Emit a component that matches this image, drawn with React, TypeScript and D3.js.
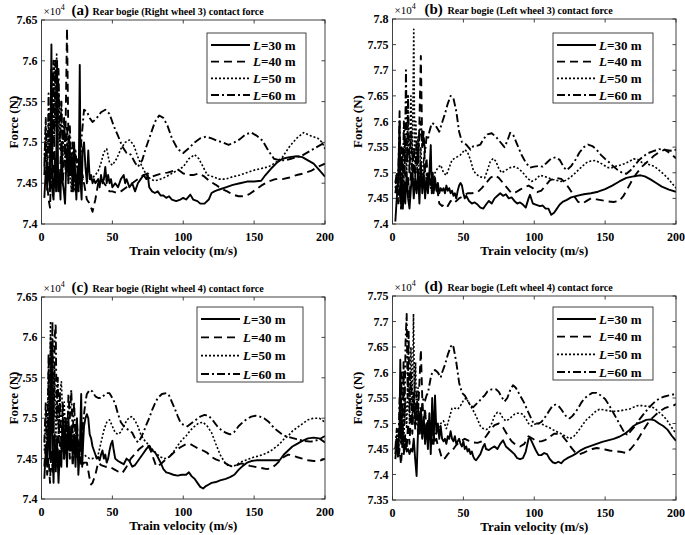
import React from "react";
import * as d3 from "d3";

type P = [number, number];

// ---------- Panel (a): Rear bogie (Right wheel 3) ----------
const a30: P[] = [[2,7.432],[3,7.465],[4,7.45],[5,7.47],[6,7.44],[7,7.62],[7.7,7.44],[8.5,7.43],[9.5,7.48],[10.3,7.44],[11,7.6],[11.8,7.44],[12.6,7.46],[13.4,7.43],[14.2,7.5],[15,7.45],[15.8,7.44],[16.6,7.425],[17.4,7.47],[18.2,7.49],[19,7.45],[19.8,7.5],[20.6,7.46],[21.4,7.48],[22.2,7.44],[23,7.5],[23.8,7.46],[24.6,7.43],[25.4,7.47],[26.2,7.44],[27,7.595],[27.6,7.45],[28.3,7.43],[29,7.49],[30,7.5],[31,7.47],[32,7.45],[33,7.49],[34,7.455],[35,7.46],[36,7.45],[37,7.455],[38,7.45],[40,7.455],[41,7.445],[42,7.46],[43,7.45],[44,7.455],[45,7.47],[46,7.45],[47,7.46],[48,7.45],[49,7.455],[50,7.445],[52,7.45],[54,7.445],[56,7.455],[58,7.46],[59,7.45],[60,7.455],[62,7.445],[64,7.45],[66,7.44],[68,7.45],[70,7.455],[72,7.46],[74,7.455],[75,7.46],[76,7.445],[78,7.44],[80,7.438],[82,7.44],[84,7.435],[86,7.435],[88,7.432],[90,7.434],[92,7.43],[95,7.428],[98,7.43],[100,7.432],[102,7.43],[105,7.436],[107,7.43],[110,7.428],[112,7.425],[115,7.425],[118,7.43],[120,7.438],[122,7.44],[125,7.442],[130,7.445],[135,7.448],[140,7.45],[145,7.452],[150,7.452],[155,7.453],[158,7.46],[162,7.468],[166,7.475],[170,7.48],[175,7.482],[180,7.483],[184,7.482],[188,7.478],[192,7.474],[196,7.466],[200,7.458]];
const a40: P[] = [[2,7.46],[3,7.5],[4,7.45],[5,7.43],[6,7.42],[7,7.47],[8,7.44],[9,7.5],[10,7.45],[11,7.48],[12,7.44],[13,7.46],[14,7.5],[15,7.45],[16,7.48],[17,7.52],[18,7.64],[19,7.5],[20,7.46],[21,7.48],[22,7.45],[23,7.47],[24,7.44],[25,7.46],[26,7.45],[27,7.47],[28,7.45],[29,7.46],[30,7.45],[31,7.44],[32,7.43],[34,7.425],[36,7.415],[38,7.43],[40,7.45],[42,7.455],[45,7.448],[48,7.44],[50,7.44],[53,7.438],[56,7.44],[60,7.445],[64,7.45],[68,7.455],[72,7.46],[75,7.462],[78,7.458],[81,7.46],[85,7.462],[89,7.463],[93,7.465],[97,7.466],[100,7.462],[103,7.46],[107,7.46],[111,7.462],[115,7.458],[119,7.452],[123,7.448],[127,7.443],[131,7.44],[135,7.436],[139,7.434],[143,7.434],[147,7.437],[151,7.442],[155,7.447],[160,7.452],[165,7.455],[170,7.455],[175,7.457],[180,7.46],[185,7.462],[190,7.465],[195,7.47],[200,7.474]];
const a50: P[] = [[2,7.48],[3,7.52],[4,7.46],[5,7.53],[6,7.47],[7,7.58],[8,7.5],[9,7.6],[10,7.52],[10.7,7.61],[11.5,7.5],[12.3,7.56],[13,7.49],[14,7.55],[15,7.48],[16,7.53],[17,7.46],[18,7.5],[19,7.45],[20,7.48],[21,7.44],[22,7.47],[23,7.44],[24,7.46],[25,7.45],[26,7.47],[27,7.45],[28,7.46],[30,7.45],[32,7.452],[35,7.455],[38,7.46],[40,7.465],[42,7.475],[44,7.488],[46,7.492],[48,7.475],[50,7.472],[53,7.48],[56,7.492],[59,7.5],[62,7.503],[65,7.497],[68,7.482],[71,7.47],[74,7.46],[77,7.455],[80,7.453],[84,7.455],[88,7.458],[92,7.462],[96,7.466],[100,7.47],[104,7.48],[108,7.485],[111,7.48],[114,7.47],[117,7.46],[121,7.458],[125,7.455],[130,7.455],[135,7.458],[140,7.46],[145,7.463],[150,7.466],[155,7.468],[160,7.47],[165,7.475],[170,7.482],[175,7.495],[180,7.505],[185,7.512],[190,7.508],[195,7.505],[198,7.5],[200,7.492]];
const a60: P[] = [[2,7.47],[3,7.53],[4,7.44],[5,7.56],[6,7.46],[7,7.59],[7.7,7.48],[8.4,7.6],[9,7.5],[10,7.6],[11,7.52],[12,7.59],[13,7.5],[14,7.55],[15,7.49],[16,7.53],[17,7.47],[18,7.52],[19,7.48],[20,7.52],[21,7.47],[22,7.5],[23,7.46],[24,7.49],[25,7.47],[26,7.48],[27,7.45],[28,7.5],[29,7.52],[30,7.54],[32,7.538],[34,7.53],[36,7.525],[38,7.528],[40,7.532],[42,7.537],[45,7.54],[48,7.535],[51,7.52],[54,7.508],[57,7.495],[60,7.487],[63,7.485],[66,7.475],[68,7.47],[71,7.478],[74,7.495],[77,7.51],[80,7.525],[83,7.533],[86,7.53],[89,7.52],[92,7.505],[96,7.492],[100,7.487],[104,7.493],[108,7.5],[112,7.505],[116,7.507],[120,7.505],[124,7.502],[128,7.5],[132,7.497],[136,7.5],[140,7.504],[144,7.51],[148,7.512],[152,7.508],[156,7.502],[160,7.49],[164,7.48],[168,7.478],[172,7.478],[176,7.48],[180,7.482],[184,7.484],[188,7.488],[192,7.492],[196,7.496],[200,7.5]];

// ---------- Panel (b): Rear bogie (Left wheel 3) ----------
const b30: P[] = [[2,7.405],[3,7.45],[4,7.49],[5,7.6],[5.7,7.44],[6.5,7.48],[7.3,7.43],[8,7.47],[9,7.44],[10,7.5],[11,7.45],[12,7.43],[13,7.47],[14,7.5],[15,7.45],[16,7.49],[17,7.46],[18,7.5],[19,7.44],[20,7.52],[21,7.46],[22,7.5],[23,7.45],[24,7.49],[25,7.46],[26,7.5],[27,7.554],[27.7,7.46],[28.4,7.5],[29,7.46],[30,7.49],[31,7.465],[32,7.48],[33,7.46],[34,7.47],[35,7.465],[36,7.47],[37,7.46],[38,7.475],[39,7.465],[40,7.47],[41,7.46],[42,7.465],[43,7.455],[44,7.46],[45,7.45],[46,7.465],[47,7.475],[48,7.48],[49,7.475],[50,7.46],[51,7.45],[52,7.455],[54,7.445],[56,7.44],[58,7.442],[60,7.438],[62,7.432],[64,7.43],[66,7.438],[68,7.445],[70,7.44],[72,7.45],[74,7.455],[76,7.46],[78,7.455],[80,7.458],[82,7.45],[84,7.452],[86,7.445],[88,7.44],[90,7.442],[92,7.438],[94,7.432],[96,7.45],[97,7.457],[99,7.44],[101,7.438],[104,7.435],[106,7.436],[108,7.43],[110,7.43],[112,7.418],[114,7.422],[116,7.43],[118,7.438],[120,7.443],[123,7.447],[126,7.452],[130,7.455],[135,7.458],[140,7.46],[145,7.463],[150,7.468],[155,7.475],[160,7.483],[165,7.49],[170,7.493],[175,7.495],[178,7.493],[182,7.487],[186,7.48],[190,7.473],[195,7.467],[200,7.463]];
const b40: P[] = [[2,7.46],[3,7.48],[4,7.44],[5,7.47],[6,7.43],[7,7.48],[8,7.45],[9,7.5],[10,7.46],[11,7.49],[12,7.45],[13,7.5],[14,7.47],[15,7.52],[16,7.49],[17,7.55],[18,7.5],[19,7.6],[20,7.728],[21,7.55],[22,7.58],[23,7.5],[24,7.53],[25,7.48],[26,7.5],[27,7.47],[28,7.49],[29,7.46],[30,7.48],[31,7.47],[32,7.46],[33,7.44],[35,7.435],[37,7.44],[39,7.435],[41,7.445],[43,7.44],[45,7.445],[47,7.45],[50,7.455],[53,7.46],[56,7.46],[60,7.462],[63,7.47],[66,7.48],[69,7.49],[72,7.495],[75,7.49],[78,7.48],[81,7.47],[84,7.46],[87,7.462],[90,7.467],[93,7.472],[96,7.475],[99,7.47],[102,7.462],[105,7.465],[108,7.475],[111,7.485],[115,7.49],[119,7.488],[122,7.48],[125,7.468],[128,7.455],[131,7.443],[134,7.44],[137,7.445],[140,7.45],[144,7.448],[148,7.446],[152,7.444],[156,7.443],[160,7.445],[163,7.455],[166,7.47],[169,7.485],[172,7.498],[176,7.512],[180,7.522],[184,7.532],[188,7.54],[192,7.545],[196,7.538],[200,7.528]];
const b50: P[] = [[2,7.47],[3,7.5],[4,7.45],[5,7.52],[6,7.47],[7,7.55],[8,7.48],[9,7.57],[10,7.5],[11,7.6],[12,7.5],[13,7.65],[14,7.52],[15,7.78],[15.7,7.53],[16.5,7.6],[17.3,7.5],[18,7.57],[19,7.48],[20,7.55],[21,7.47],[22,7.53],[23,7.46],[24,7.5],[25,7.46],[26,7.49],[27,7.47],[28,7.5],[29,7.48],[30,7.5],[32,7.51],[34,7.515],[36,7.5],[38,7.495],[40,7.51],[42,7.525],[45,7.53],[48,7.535],[51,7.545],[53,7.54],[55,7.525],[57,7.505],[59,7.497],[62,7.492],[65,7.49],[67,7.505],[69,7.522],[71,7.528],[73,7.522],[75,7.508],[77,7.5],[80,7.505],[83,7.51],[86,7.512],[89,7.508],[92,7.5],[95,7.49],[98,7.483],[101,7.487],[104,7.495],[107,7.493],[110,7.49],[113,7.487],[116,7.485],[119,7.483],[122,7.485],[125,7.49],[128,7.497],[131,7.505],[134,7.513],[137,7.52],[140,7.523],[143,7.524],[146,7.52],[149,7.515],[152,7.51],[155,7.51],[158,7.513],[161,7.515],[164,7.518],[167,7.522],[170,7.527],[173,7.526],[176,7.52],[179,7.518],[182,7.515],[185,7.512],[188,7.505],[191,7.498],[194,7.49],[197,7.48],[200,7.47]];
const b60: P[] = [[2,7.48],[3,7.5],[4,7.47],[5,7.62],[5.7,7.46],[6.4,7.55],[7.2,7.47],[8,7.6],[8.7,7.5],[9.5,7.7],[10.3,7.52],[11,7.65],[12,7.5],[13,7.58],[14,7.49],[15,7.55],[16,7.5],[17,7.56],[18,7.52],[19,7.57],[20,7.6],[21,7.55],[22,7.57],[23,7.54],[24,7.57],[25,7.565],[26,7.58],[27,7.59],[28,7.597],[30,7.594],[32,7.585],[33,7.58],[35,7.598],[37,7.615],[39,7.635],[41,7.65],[43,7.645],[45,7.62],[47,7.58],[49,7.56],[52,7.555],[55,7.545],[57,7.552],[60,7.553],[62,7.555],[64,7.565],[67,7.575],[70,7.577],[73,7.57],[76,7.56],[79,7.55],[81,7.562],[83,7.578],[85,7.575],[88,7.555],[91,7.535],[94,7.52],[97,7.51],[100,7.512],[103,7.513],[106,7.512],[109,7.52],[112,7.528],[115,7.53],[118,7.525],[121,7.51],[123,7.505],[126,7.513],[129,7.525],[132,7.54],[135,7.55],[138,7.555],[141,7.552],[144,7.545],[147,7.535],[150,7.527],[153,7.52],[156,7.512],[159,7.505],[162,7.5],[165,7.498],[168,7.505],[171,7.515],[174,7.525],[177,7.532],[180,7.538],[184,7.542],[188,7.546],[192,7.545],[196,7.543],[200,7.545]];

// ---------- Panel (c): Rear bogie (Right wheel 4) ----------
const c30: P[] = [[2,7.425],[3,7.46],[4,7.44],[5,7.5],[6,7.45],[7,7.59],[7.7,7.46],[8.5,7.42],[9.3,7.48],[10,7.44],[11,7.47],[12,7.42],[13,7.46],[14,7.44],[15,7.5],[16,7.45],[17,7.48],[18,7.44],[19,7.5],[20,7.46],[21,7.49],[22,7.45],[23,7.48],[24,7.44],[25,7.5],[26,7.43],[27,7.46],[28,7.53],[28.7,7.44],[29.4,7.47],[30,7.49],[31,7.5],[32,7.505],[33,7.5],[34,7.48],[35,7.475],[36,7.465],[37,7.46],[38,7.455],[39,7.45],[40,7.452],[41,7.448],[42,7.455],[43,7.46],[44,7.45],[45,7.455],[46,7.445],[47,7.45],[48,7.46],[49,7.468],[50,7.472],[51,7.46],[52,7.45],[54,7.447],[56,7.445],[58,7.443],[60,7.45],[62,7.447],[64,7.44],[66,7.442],[68,7.447],[70,7.452],[72,7.457],[74,7.462],[76,7.466],[78,7.46],[80,7.458],[82,7.452],[84,7.445],[86,7.437],[88,7.433],[90,7.432],[93,7.43],[96,7.429],[99,7.43],[102,7.43],[104,7.433],[106,7.428],[108,7.425],[110,7.42],[112,7.415],[114,7.413],[116,7.416],[118,7.418],[120,7.42],[123,7.421],[126,7.423],[130,7.425],[133,7.427],[136,7.43],[139,7.436],[142,7.441],[145,7.445],[148,7.447],[152,7.448],[156,7.448],[160,7.448],[164,7.448],[168,7.448],[171,7.455],[174,7.46],[177,7.465],[180,7.468],[184,7.472],[188,7.475],[192,7.476],[196,7.475],[200,7.47]];
const c40: P[] = [[2,7.44],[3,7.47],[4,7.43],[5,7.45],[6,7.42],[7,7.46],[8,7.43],[9,7.47],[10,7.43],[11,7.48],[12,7.44],[13,7.47],[14,7.45],[15,7.49],[16,7.45],[17,7.5],[18,7.46],[19,7.49],[20,7.45],[21,7.48],[22,7.44],[23,7.47],[24,7.45],[25,7.48],[26,7.45],[27,7.47],[28,7.44],[30,7.445],[32,7.445],[34,7.425],[35,7.418],[36,7.42],[38,7.43],[40,7.445],[42,7.442],[45,7.44],[48,7.44],[51,7.437],[54,7.434],[57,7.432],[60,7.44],[63,7.45],[66,7.456],[69,7.462],[72,7.466],[75,7.467],[77,7.46],[79,7.45],[81,7.44],[84,7.443],[87,7.448],[90,7.452],[93,7.457],[96,7.462],[99,7.465],[102,7.468],[105,7.468],[108,7.465],[111,7.462],[114,7.46],[117,7.457],[120,7.452],[123,7.449],[126,7.447],[129,7.445],[132,7.442],[135,7.44],[138,7.442],[141,7.444],[144,7.443],[147,7.441],[150,7.44],[153,7.439],[156,7.438],[159,7.437],[162,7.438],[165,7.442],[168,7.447],[171,7.452],[174,7.455],[177,7.454],[180,7.452],[184,7.45],[188,7.448],[192,7.447],[196,7.447],[200,7.45]];
const c50: P[] = [[2,7.46],[3,7.5],[4,7.47],[5,7.56],[5.7,7.48],[6.4,7.62],[7.1,7.5],[7.8,7.59],[8.5,7.49],[9.3,7.56],[10,7.47],[11,7.52],[12,7.48],[13,7.53],[14,7.545],[15,7.5],[16,7.52],[17,7.47],[18,7.5],[19,7.46],[20,7.49],[21,7.46],[22,7.48],[23,7.455],[24,7.47],[25,7.45],[26,7.46],[27,7.45],[28,7.455],[30,7.455],[32,7.452],[34,7.45],[36,7.45],[38,7.452],[40,7.455],[42,7.47],[44,7.485],[46,7.495],[48,7.498],[50,7.49],[52,7.482],[54,7.48],[56,7.483],[58,7.49],[60,7.497],[62,7.501],[64,7.502],[66,7.497],[68,7.49],[70,7.48],[72,7.474],[75,7.468],[78,7.462],[81,7.456],[84,7.452],[87,7.45],[90,7.452],[93,7.458],[96,7.466],[99,7.473],[102,7.478],[105,7.485],[108,7.49],[111,7.494],[114,7.495],[117,7.49],[120,7.482],[123,7.468],[126,7.455],[129,7.446],[132,7.441],[135,7.44],[138,7.443],[141,7.446],[144,7.448],[147,7.45],[150,7.452],[153,7.453],[156,7.455],[159,7.457],[162,7.46],[165,7.464],[168,7.468],[171,7.474],[174,7.478],[177,7.484],[180,7.488],[184,7.493],[188,7.498],[192,7.5],[196,7.5],[200,7.495]];
const c60: P[] = [[2,7.47],[3,7.52],[4,7.45],[5,7.58],[5.7,7.46],[6.4,7.6],[7,7.5],[7.7,7.62],[8.5,7.47],[9.3,7.6],[10,7.617],[10.7,7.5],[11.5,7.55],[12.3,7.47],[13,7.53],[14,7.46],[15,7.52],[16,7.47],[17,7.5],[18,7.46],[19,7.53],[20,7.5],[21,7.535],[22,7.48],[23,7.52],[24,7.47],[25,7.5],[26,7.46],[27,7.47],[28,7.46],[29,7.49],[30,7.505],[31,7.52],[32,7.53],[34,7.535],[36,7.533],[38,7.527],[40,7.525],[42,7.525],[44,7.528],[46,7.531],[48,7.531],[50,7.525],[52,7.518],[54,7.505],[56,7.495],[58,7.49],[60,7.487],[62,7.485],[64,7.482],[66,7.475],[68,7.47],[70,7.475],[72,7.483],[74,7.492],[76,7.5],[78,7.51],[80,7.518],[82,7.525],[85,7.53],[88,7.531],[90,7.528],[92,7.52],[94,7.512],[96,7.503],[98,7.495],[100,7.492],[103,7.49],[106,7.494],[109,7.498],[112,7.502],[115,7.504],[118,7.503],[121,7.497],[124,7.49],[127,7.485],[130,7.482],[133,7.48],[136,7.483],[139,7.49],[142,7.495],[145,7.499],[148,7.502],[151,7.503],[154,7.502],[157,7.5],[160,7.496],[163,7.49],[166,7.485],[169,7.481],[172,7.478],[176,7.476],[180,7.474],[185,7.472],[190,7.471],[195,7.473],[200,7.478]];

// ---------- Panel (d): Rear bogie (Left wheel 4) ----------
const d30: P[] = [[2,7.43],[3,7.46],[4,7.44],[5,7.5],[5.5,7.625],[6.2,7.46],[7,7.5],[8,7.445],[9,7.46],[10,7.445],[11,7.45],[12,7.44],[13,7.45],[14,7.445],[15,7.47],[16,7.43],[17,7.397],[17.7,7.46],[18.5,7.52],[19.3,7.48],[20,7.53],[21,7.47],[22,7.51],[23,7.46],[24,7.5],[25,7.45],[26,7.52],[27,7.44],[28,7.55],[29,7.46],[30,7.555],[31,7.48],[32,7.5],[33,7.47],[34,7.495],[35,7.47],[36,7.465],[37,7.47],[38,7.46],[39,7.475],[40,7.47],[41,7.485],[42,7.47],[43,7.465],[44,7.475],[45,7.46],[46,7.465],[47,7.47],[48,7.46],[49,7.455],[50,7.465],[51,7.45],[52,7.455],[53,7.445],[54,7.45],[55,7.44],[56,7.445],[57,7.435],[58,7.43],[59,7.428],[60,7.432],[62,7.44],[64,7.455],[65,7.46],[66,7.45],[68,7.448],[70,7.452],[72,7.455],[74,7.45],[76,7.46],[78,7.467],[80,7.455],[82,7.45],[84,7.445],[86,7.44],[88,7.432],[90,7.43],[92,7.432],[94,7.445],[96,7.47],[97,7.472],[99,7.46],[101,7.448],[103,7.438],[105,7.438],[107,7.442],[109,7.44],[111,7.43],[113,7.424],[115,7.422],[117,7.425],[119,7.422],[121,7.428],[124,7.433],[127,7.437],[130,7.442],[133,7.448],[136,7.452],[140,7.456],[144,7.46],[148,7.464],[152,7.467],[156,7.47],[160,7.474],[164,7.48],[167,7.487],[170,7.495],[173,7.5],[176,7.503],[179,7.507],[182,7.508],[185,7.506],[188,7.5],[191,7.495],[194,7.488],[197,7.476],[200,7.466]];
const d40: P[] = [[2,7.44],[3,7.47],[4,7.43],[5,7.45],[6,7.42],[7,7.46],[8,7.44],[9,7.48],[10,7.45],[11,7.5],[12,7.46],[13,7.52],[14,7.48],[15,7.55],[16,7.5],[17,7.56],[18,7.52],[19,7.58],[20,7.645],[21,7.55],[22,7.5],[23,7.53],[24,7.48],[25,7.51],[26,7.47],[27,7.5],[28,7.46],[29,7.48],[30,7.46],[31,7.47],[32,7.455],[33,7.45],[35,7.43],[37,7.432],[39,7.44],[41,7.445],[43,7.45],[45,7.458],[48,7.465],[51,7.47],[54,7.466],[57,7.463],[60,7.462],[63,7.465],[66,7.475],[69,7.487],[72,7.497],[75,7.5],[78,7.492],[81,7.478],[84,7.465],[87,7.458],[90,7.455],[93,7.46],[96,7.475],[99,7.47],[102,7.465],[105,7.465],[108,7.468],[111,7.474],[114,7.48],[117,7.48],[120,7.475],[123,7.465],[126,7.453],[129,7.443],[132,7.44],[135,7.443],[138,7.447],[141,7.45],[144,7.452],[147,7.451],[150,7.449],[153,7.447],[156,7.446],[159,7.445],[162,7.444],[165,7.442],[168,7.45],[171,7.46],[174,7.473],[177,7.487],[180,7.5],[183,7.51],[186,7.518],[189,7.525],[192,7.53],[195,7.533],[198,7.535],[200,7.538]];
const d50: P[] = [[2,7.45],[3,7.48],[4,7.44],[5,7.5],[6,7.46],[7,7.52],[8,7.47],[9,7.55],[10,7.49],[11,7.6],[12,7.5],[13,7.65],[14,7.52],[14.8,7.715],[15.5,7.55],[16.3,7.62],[17,7.5],[18,7.57],[19,7.48],[20,7.53],[21,7.47],[22,7.51],[23,7.47],[24,7.5],[25,7.48],[26,7.495],[27,7.475],[28,7.49],[30,7.48],[32,7.49],[34,7.5],[36,7.505],[38,7.49],[40,7.51],[42,7.53],[44,7.53],[46,7.528],[48,7.535],[50,7.545],[52,7.55],[54,7.54],[56,7.53],[58,7.52],[60,7.508],[62,7.495],[64,7.49],[66,7.488],[68,7.49],[70,7.5],[72,7.515],[74,7.522],[76,7.52],[78,7.51],[80,7.505],[82,7.508],[84,7.513],[86,7.518],[88,7.52],[90,7.52],[92,7.518],[94,7.51],[96,7.5],[98,7.495],[100,7.498],[102,7.5],[104,7.5],[106,7.498],[108,7.495],[110,7.493],[113,7.488],[116,7.484],[119,7.48],[122,7.475],[125,7.47],[128,7.475],[131,7.485],[134,7.497],[137,7.508],[140,7.515],[143,7.523],[146,7.528],[149,7.527],[152,7.525],[155,7.524],[158,7.524],[161,7.525],[164,7.527],[167,7.528],[170,7.532],[173,7.535],[176,7.535],[179,7.534],[182,7.533],[185,7.53],[188,7.522],[191,7.515],[194,7.505],[197,7.492],[200,7.48]];
const d60: P[] = [[2,7.45],[3,7.49],[4,7.44],[5,7.55],[5.7,7.47],[6.4,7.6],[7.1,7.48],[7.8,7.62],[8.5,7.5],[9.2,7.66],[10,7.715],[10.7,7.55],[11.4,7.68],[12,7.52],[13,7.6],[14,7.5],[15,7.56],[16,7.49],[17,7.53],[18,7.48],[19,7.52],[20,7.5],[21,7.54],[22,7.55],[23,7.545],[24,7.555],[25,7.56],[26,7.575],[27,7.59],[28,7.6],[30,7.605],[32,7.6],[34,7.59],[35,7.6],[37,7.615],[39,7.635],[41,7.65],[42,7.655],[43,7.65],[45,7.62],[47,7.58],[49,7.56],[51,7.555],[53,7.545],[55,7.535],[57,7.532],[59,7.538],[61,7.543],[63,7.55],[65,7.555],[67,7.563],[70,7.567],[73,7.567],[75,7.562],[77,7.552],[79,7.543],[81,7.55],[83,7.565],[85,7.575],[87,7.57],[89,7.56],[91,7.55],[93,7.54],[95,7.527],[97,7.515],[99,7.503],[101,7.5],[103,7.5],[105,7.503],[107,7.51],[109,7.518],[111,7.527],[113,7.535],[115,7.537],[117,7.535],[119,7.528],[121,7.52],[123,7.512],[125,7.51],[127,7.515],[129,7.522],[131,7.53],[133,7.54],[135,7.548],[138,7.555],[141,7.56],[144,7.56],[147,7.555],[150,7.548],[153,7.535],[156,7.52],[159,7.505],[162,7.49],[164,7.48],[166,7.478],[168,7.485],[171,7.495],[174,7.507],[177,7.518],[180,7.528],[183,7.537],[186,7.545],[189,7.55],[192,7.553],[195,7.555],[198,7.557],[200,7.557]];

// ---------- Labels / ticks ----------
const xTicks = [0, 50, 100, 150, 200];
const yTicksAC = [7.4, 7.45, 7.5, 7.55, 7.6, 7.65];
const yTicksB = [7.4, 7.45, 7.5, 7.55, 7.6, 7.65, 7.7, 7.75, 7.8];
const yTicksD = [7.35, 7.4, 7.45, 7.5, 7.55, 7.6, 7.65, 7.7, 7.75];
const seriesNames = ["30", "40", "50", "60"];
const panelTags = ["(a)", "(b)", "(c)", "(d)"];
const panelTitles = [
  "Rear bogie (Right wheel 3) contact force",
  "Rear bogie (Left wheel 3) contact force",
  "Rear bogie (Right wheel 4) contact force",
  "Rear bogie (Left wheel 4) contact force",
];

// ---------- Layout / styles ----------
const FONT = '"Liberation Serif","Times New Roman",serif';
const dashes = [null, "8,5", "2,2", "8,3,2,3"];
const widths = [1.9, 1.9, 1.6, 1.9];

const panels = [
  { series: [a30, a40, a50, a60], yTicks: yTicksAC, x0: 41.5, x1: 325, y0: 20, y1: 224, ylabX: 13, leg: { x: 207, y: 33, w: 99, h: 70 } },
  { series: [b30, b40, b50, b60], yTicks: yTicksB, x0: 392.5, x1: 676, y0: 19, y1: 224, ylabX: 357, leg: { x: 553, y: 33, w: 100, h: 70 } },
  { series: [c30, c40, c50, c60], yTicks: yTicksAC, x0: 41.5, x1: 325, y0: 297, y1: 499, ylabX: 13, leg: { x: 197, y: 307, w: 106, h: 75 } },
  { series: [d30, d40, d50, d60], yTicks: yTicksD, x0: 392.5, x1: 676, y0: 296, y1: 500, ylabX: 357, leg: { x: 553, y: 307, w: 100, h: 73 } },
];

function Panel({ idx }: { idx: number }) {
  const p = panels[idx];
  const x = d3.scaleLinear().domain([0, 200]).range([p.x0, p.x1]);
  const yd = [p.yTicks[0], p.yTicks[p.yTicks.length - 1]];
  const y = d3.scaleLinear().domain(yd).range([p.y1, p.y0]);
  const line = d3.line<P>().x((d) => x(d[0])).y((d) => y(d[1]));
  const clipId = `clip-${idx}`;
  const axisColor = "#303030";
  const tl = 3.5;
  const lg = p.leg;
  const rowGap = (lg.h - 20) / 3;
  return (
    <g>
      <defs>
        <clipPath id={clipId}>
          <rect x={p.x0} y={p.y0} width={p.x1 - p.x0} height={p.y1 - p.y0} />
        </clipPath>
      </defs>
      <rect x={p.x0} y={p.y0} width={p.x1 - p.x0} height={p.y1 - p.y0} fill="#fff" />
      <g clipPath={`url(#${clipId})`}>
        {p.series.map((s, i) => (
          <path
            key={i}
            d={line(s) || ""}
            fill="none"
            stroke="#000"
            strokeWidth={widths[i]}
            strokeDasharray={dashes[i] || undefined}
            strokeLinejoin="round"
          />
        ))}
      </g>
      {/* box */}
      <rect x={p.x0} y={p.y0} width={p.x1 - p.x0} height={p.y1 - p.y0} fill="none" stroke={axisColor} strokeWidth={0.9} />
      {/* x ticks */}
      {xTicks.map((t) => (
        <g key={"x" + t}>
          <line x1={x(t)} x2={x(t)} y1={p.y1} y2={p.y1 - tl} stroke={axisColor} strokeWidth={0.9} />
          <line x1={x(t)} x2={x(t)} y1={p.y0} y2={p.y0 + tl} stroke={axisColor} strokeWidth={0.9} />
          <text x={x(t)} y={p.y1 + 17} textAnchor="middle" fontSize={12} fontWeight="bold" fontFamily={FONT}>
            {t}
          </text>
        </g>
      ))}
      {/* y ticks */}
      {p.yTicks.map((t) => (
        <g key={"y" + t}>
          <line x1={p.x0} x2={p.x0 + tl} y1={y(t)} y2={y(t)} stroke={axisColor} strokeWidth={0.9} />
          <line x1={p.x1} x2={p.x1 - tl} y1={y(t)} y2={y(t)} stroke={axisColor} strokeWidth={0.9} />
          <text x={p.x0 - 4} y={y(t) + 4} textAnchor="end" fontSize={12} fontWeight="bold" fontFamily={FONT}>
            {String(t)}
          </text>
        </g>
      ))}
      {/* axis labels */}
      <text x={(p.x0 + p.x1) / 2} y={p.y1 + 31} textAnchor="middle" fontSize={13} fontWeight="bold" fontFamily={FONT}>
        Train velocity (m/s)
      </text>
      <text
        transform={`translate(${p.ylabX},${(p.y0 + p.y1) / 2}) rotate(-90)`}
        textAnchor="middle"
        dy="0.35em"
        fontSize={13}
        fontWeight="bold"
        fontFamily={FONT}
      >
        Force (N)
      </text>
      {/* title */}
      <text x={p.x0 + 2} y={p.y0 - 5} fontFamily={FONT} fontSize={11}>
        ×10
        <tspan dy={-5} fontSize={8}>4</tspan>
      </text>
      <text x={p.x0 + (idx % 2 === 0 ? 30 : 32)} y={p.y0 - 5} fontFamily={FONT} fontSize={15} fontWeight="bold">
        {panelTags[idx]}
      </text>
      <text x={p.x0 + (idx % 2 === 0 ? 51 : 55)} y={p.y0 - 5} fontFamily={FONT} fontSize={10} fontWeight="bold">
        {panelTitles[idx]}
      </text>
      {/* legend */}
      <rect x={lg.x} y={lg.y} width={lg.w} height={lg.h} fill="#fff" stroke={axisColor} strokeWidth={0.9} />
      {seriesNames.map((n, i) => {
        const ry = lg.y + 11 + i * rowGap + 1;
        return (
          <g key={n}>
            <line
              x1={lg.x + 4}
              x2={lg.x + 43}
              y1={ry}
              y2={ry}
              stroke="#000"
              strokeWidth={widths[i]}
              strokeDasharray={dashes[i] || undefined}
            />
            <text x={lg.x + 46} y={ry + 4.5} fontFamily={FONT} fontSize={13} fontWeight="bold">
              <tspan fontStyle="italic">L</tspan>={n} m
            </text>
          </g>
        );
      })}
    </g>
  );
}

export default function App() {
  return (
    <svg
      width={685}
      height={535}
      viewBox="0 0 685 535"
      style={{ position: "absolute", left: 0, top: 0, background: "#fff" }}
    >
      <rect x={0} y={0} width={685} height={535} fill="#fff" />
      {panels.map((_, i) => (
        <Panel key={i} idx={i} />
      ))}
    </svg>
  );
}
